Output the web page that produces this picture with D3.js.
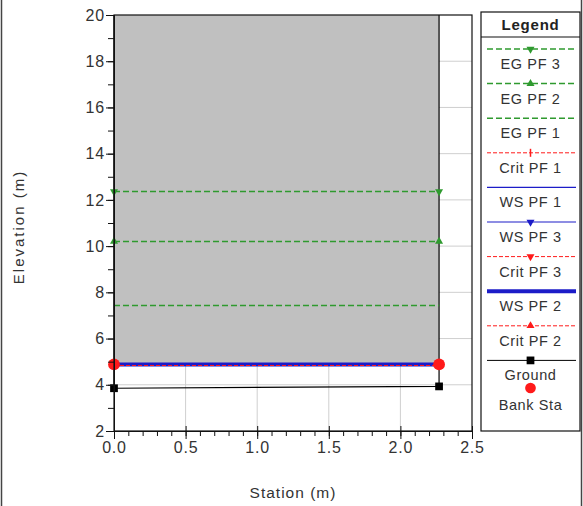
<!DOCTYPE html>
<html>
<head>
<meta charset="utf-8">
<script src="https://cdn.jsdelivr.net/npm/d3@7"></script>
<style>
  body { margin: 0; background: #fff; }
  svg { display: block; font-family: "Liberation Sans", Arial, sans-serif; }
</style>
</head>
<body>
<svg id="chart"></svg>
<script>
// Cross section: water surface profiles (HEC-RAS style)
const profileNames = ["EG PF 3", "EG PF 2", "EG PF 1", "Crit PF 1", "WS PF 1", "WS PF 3", "Crit PF 3", "WS PF 2", "Crit PF 2"];
const profileElev = [12.4, 10.2, 7.45, 4.86, 4.88, 4.88, 4.86, 4.88, 4.86];
const bankSta = [0, 2.27];
const bankElev = [4.88, 4.88];
const groundSta = [0, 0, 2.27, 2.27];
const groundElev = [20, 3.85, 3.93, 20];
const legendNames = [...profileNames, "Ground", "Bank Sta"];

const W = 583, H = 506;
const margin = { top: 15, right: 111, bottom: 75, left: 114 },
    width = W - margin.left - margin.right,
    height = H - margin.top - margin.bottom;

const green = "#2f9a2f", red = "#ff1a1a", blue = "#1c1cc8";
const style = {
  "EG PF 3":   { color: green, dash: "6,3", w: 1.5, marker: "down" },
  "EG PF 2":   { color: green, dash: "6,3", w: 1.5, marker: "up" },
  "EG PF 1":   { color: green, dash: "6,3", w: 1.5, marker: null },
  "Crit PF 1": { color: red, dash: "4,2", w: 1, marker: "plus" },
  "WS PF 1":   { color: blue, dash: null, w: 1.2, marker: null },
  "WS PF 3":   { color: blue, dash: null, w: 1.2, marker: "down" },
  "Crit PF 3": { color: red, dash: "4,2", w: 1, marker: "down" },
  "WS PF 2":   { color: blue, dash: null, w: 4, marker: null },
  "Crit PF 2": { color: red, dash: "4,2", w: 1, marker: "up" },
  "Ground":    { color: "#000", dash: null, w: 1, marker: "square" },
  "Bank Sta":  { color: red, dash: null, w: 0, marker: "circle" }
};

const svg0 = d3.select("#chart").attr("width", W).attr("height", H);

// outer frame edges
svg0.append("line").attr("x1", 1.5).attr("x2", 1.5).attr("y1", 0).attr("y2", H)
    .attr("stroke", "#444").attr("stroke-width", 1.5);
svg0.append("line").attr("x1", 581.5).attr("x2", 581.5).attr("y1", 0).attr("y2", H)
    .attr("stroke", "#444").attr("stroke-width", 1.5);

const svg = svg0.append("g").attr("transform", `translate(${margin.left},${margin.top})`);

const x = d3.scaleLinear().domain([0, 2.5]).range([0, width]);
const y = d3.scaleLinear().domain([2, 20]).range([height, 0]);

function markerPath(kind, size) {
  if (kind === "up" || kind === "down") return d3.symbol(d3.symbolTriangle, size)();
  if (kind === "square") return d3.symbol(d3.symbolSquare, size)();
  if (kind === "circle") return d3.symbol(d3.symbolCircle, size)();
  if (kind === "plus") return "M0,-4V4";
  return null;
}

function drawMarker(g, kind, cx, cy, color, size) {
  if (!kind) return;
  const p = g.append("path")
      .attr("d", markerPath(kind, size))
      .attr("transform", `translate(${cx},${cy})` + (kind === "down" ? " rotate(180)" : ""));
  if (kind === "plus") p.attr("stroke", color).attr("stroke-width", 1.5).attr("fill", "none");
  else p.attr("fill", color);
}

// grid
svg.append("g").selectAll("line.gx")
    .data(x.ticks(5).filter(d => d > 0 && d < 2.5))
    .enter().append("line")
    .attr("x1", d => x(d)).attr("x2", d => x(d))
    .attr("y1", 0).attr("y2", height)
    .attr("stroke", "#cfcfcf");
svg.append("g").selectAll("line.gy")
    .data(y.ticks(9).filter(d => d > 2 && d < 20))
    .enter().append("line")
    .attr("x1", 0).attr("x2", width)
    .attr("y1", d => y(d)).attr("y2", d => y(d))
    .attr("stroke", "#cfcfcf");

// gray fill above the water surface, between the walls
svg.append("rect")
    .attr("x", x(groundSta[0]))
    .attr("y", y(20))
    .attr("width", x(groundSta[3]) - x(groundSta[0]))
    .attr("height", y(profileElev[7]) - y(20))
    .attr("fill", "#c0c0c0");

// ground
const gpts = groundSta.map((s, i) => [s, groundElev[i]]);
svg.append("path")
    .datum(gpts)
    .attr("fill", "none")
    .attr("stroke", "#000")
    .attr("stroke-width", 1.2)
    .attr("d", d3.line().x(d => x(d[0])).y(d => y(d[1])));

// profiles: EG first, then WS, crit on top
const drawOrder = ["EG PF 1", "EG PF 2", "EG PF 3", "WS PF 2", "WS PF 1", "WS PF 3", "Crit PF 1", "Crit PF 3", "Crit PF 2"];
drawOrder.forEach(name => {
  const v = profileElev[profileNames.indexOf(name)];
  const s = style[name];
  const py = Math.round(y(v)) + 0.5;
  svg.append("line")
      .attr("x1", x(bankSta[0])).attr("x2", x(bankSta[1]))
      .attr("y1", py).attr("y2", py)
      .attr("stroke", s.color)
      .attr("stroke-width", s.w)
      .attr("stroke-dasharray", s.dash);
  bankSta.forEach(b => drawMarker(svg, s.marker, x(b), py, s.color, 28));
});

// ground points and bank stations
gpts.filter(d => d[1] < 20).forEach(d => drawMarker(svg, "square", x(d[0]), y(d[1]), "#000", 60));
bankSta.forEach((b, i) => drawMarker(svg, "circle", x(b), y(bankElev[i]), red, 110));

// frame
svg.append("rect").attr("width", width).attr("height", height)
    .attr("fill", "none").attr("stroke", "#111").attr("stroke-width", 1.2);

// axes
svg.append("g").attr("transform", `translate(0,${height})`)
    .call(d3.axisBottom(x).ticks(5).tickFormat(d3.format(".1f")).tickSize(8).tickPadding(3));
svg.append("g").attr("transform", `translate(0,${height})`)
    .call(d3.axisBottom(x).ticks(25).tickFormat("").tickSize(5))
    .call(g => g.select(".domain").remove());
svg.append("g").attr("transform", `translate(0,${height})`)
    .call(d3.axisTop(x).ticks(5).tickFormat("").tickSize(5))
    .call(g => g.select(".domain").remove());
svg.append("g")
    .call(d3.axisLeft(y).ticks(9).tickSize(8).tickPadding(1));
svg.append("g")
    .call(d3.axisLeft(y).ticks(18).tickFormat("").tickSize(6))
    .call(g => g.select(".domain").remove());

svg.selectAll(".tick text")
    .style("font-size", "16px")
    .style("letter-spacing", "0.8px")
    .attr("fill", "#333")
    .style("font-family", "'Liberation Sans', Arial, sans-serif");
svg.selectAll(".domain, .tick line").attr("stroke", "#111");

// axis titles
svg0.append("text")
    .attr("transform", `translate(24,${margin.top + height / 2 + 4}) rotate(-90)`)
    .attr("text-anchor", "middle")
    .style("font-size", "15px")
    .style("letter-spacing", "2px")
    .attr("fill", "#333")
    .text("Elevation (m)");
svg0.append("text")
    .attr("x", 293)
    .attr("y", 498)
    .attr("text-anchor", "middle")
    .style("font-size", "15.5px")
    .style("letter-spacing", "1px")
    .attr("fill", "#333")
    .text("Station (m)");

// legend
const lg = svg0.append("g").attr("transform", "translate(481,12)");
const lgW = 99, lgH = 419;
lg.append("rect").attr("width", lgW).attr("height", lgH)
    .attr("fill", "#fff").attr("stroke", "#111").attr("stroke-width", 1.2);
lg.append("line").attr("x1", 0).attr("x2", lgW).attr("y1", 25).attr("y2", 25)
    .attr("stroke", "#111").attr("stroke-width", 1.2);
lg.append("text").attr("x", lgW / 2).attr("y", 18)
    .attr("text-anchor", "middle")
    .style("font-size", "15px").style("font-weight", "bold")
    .style("letter-spacing", "0.8px")
    .attr("fill", "#222")
    .text("Legend");

const entry = lg.selectAll(".legend")
    .data(legendNames)
    .enter().append("g")
    .attr("class", "legend")
    .attr("transform", (d, i) => `translate(0,${37 + i * 34.6})`);

entry.each(function (name) {
  const g = d3.select(this);
  const s = style[name];
  if (s.w > 0) {
    g.append("line").attr("x1", 6).attr("x2", lgW - 4)
        .attr("y1", 0).attr("y2", 0)
        .attr("stroke", s.color)
        .attr("stroke-width", s.w)
        .attr("stroke-dasharray", s.dash);
  }
  const size = name === "Ground" ? 60 : name === "Bank Sta" ? 90 : 28;
  drawMarker(g, s.marker, lgW / 2, name === "Bank Sta" ? -7 : 0, s.color, size);
  g.append("text")
      .attr("x", lgW / 2)
      .attr("y", name === "Bank Sta" ? 10 : 15)
      .attr("dy", "0.35em")
      .attr("text-anchor", "middle")
      .style("font-size", "14.5px")
      .style("letter-spacing", "0.6px")
      .attr("fill", "#333")
      .text(name);
});
</script>
</body>
</html>
